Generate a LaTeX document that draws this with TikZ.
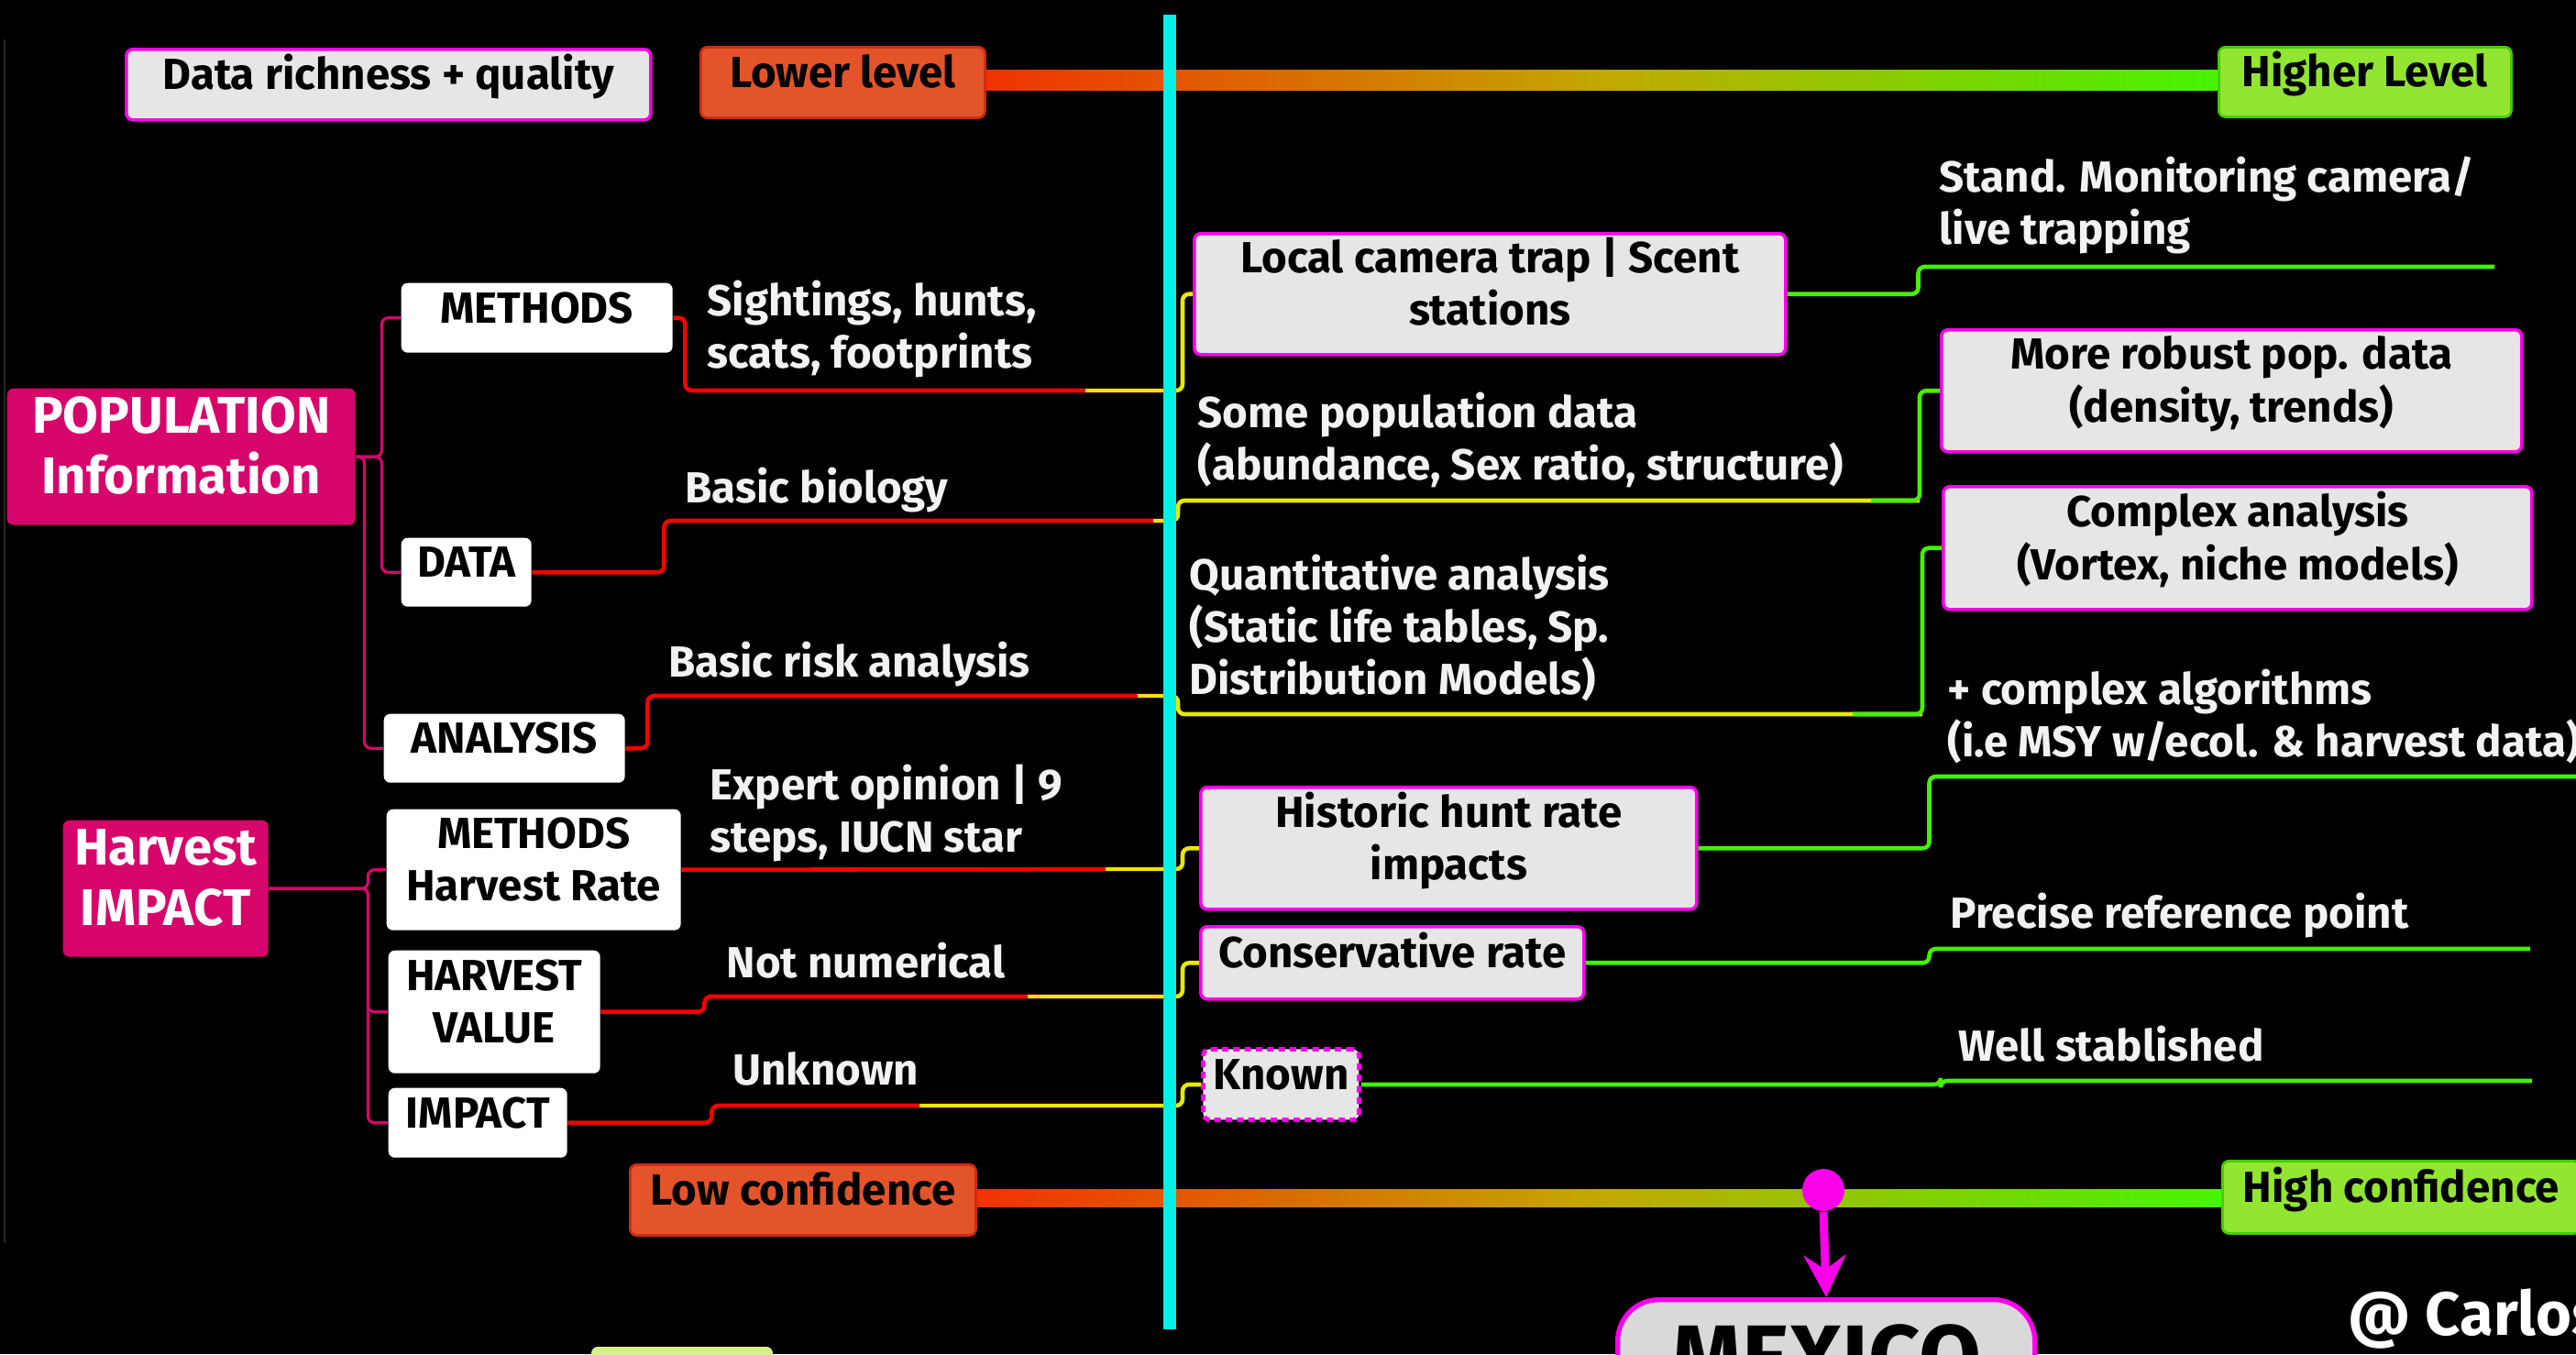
\documentclass[tikz,border=0pt]{standalone}
\usepackage{fontspec}
\setmainfont{Fira Sans}
\usepackage{tikz}
\usepackage{xcolor}
\usetikzlibrary{arrows.meta}
\usetikzlibrary{shapes}

\definecolor{wurzelpink}{RGB}{214,6,107}
\definecolor{randpink}{RGB}{250,0,235}
\definecolor{kastengrau}{RGB}{230,230,230}
\definecolor{mexikograu}{RGB}{217,217,217}
\definecolor{orangerot}{RGB}{228,84,42}
\definecolor{orangerand}{RGB}{205,45,20}
\definecolor{hellgruen}{RGB}{146,230,50}
\definecolor{gruenrand}{RGB}{70,205,0}
\definecolor{zweigrot}{RGB}{245,0,0}
\definecolor{zweiggelb}{RGB}{232,232,0}
\definecolor{zweiggruen}{RGB}{70,240,0}
\definecolor{balkenrot}{RGB}{240,50,0}
\definecolor{balkenoliv}{RGB}{195,168,0}
\definecolor{balkengruen}{RGB}{70,245,0}
\definecolor{achse}{RGB}{0,240,228}
\definecolor{schrift}{RGB}{242,242,242}
\definecolor{randgrau}{RGB}{38,38,38}
\definecolor{blassgruen}{RGB}{216,240,140}

\newcommand\normalschrift{\fontsize{13.5}{16.3}\selectfont\bfseries}
\newcommand\grossschrift{\fontsize{16}{19}\selectfont\bfseries}
\newcommand\stufenschrift{\fontsize{13.5}{16}\selectfont\bfseries}
% Text in den Kaesten etwas hoeher setzen:
\newcommand\kastentext[1]{\raisebox{0.6mm}[\height][\depth]{\begin{tabular}{@{}c@{}}#1\end{tabular}}}

\tikzset{
  kasten/.style={anchor=north west, fill=kastengrau, draw=randpink, line width=1pt,
    rounded corners=2pt, inner sep=0pt, align=center, font=\normalschrift},
  zweig/.style={anchor=north west, fill=white, rounded corners=2pt, inner sep=0pt,
    align=center, font=\normalschrift},
  wurzel/.style={anchor=north west, fill=wurzelpink, text=white, rounded corners=2pt,
    inner sep=0pt, align=center, font=\grossschrift},
  notiz/.style={anchor=north west, text=schrift, inner sep=0pt, align=left, font=\normalschrift},
  stufe/.style={anchor=north west, rounded corners=2pt, inner sep=0pt, line width=0.8pt,
    font=\stufenschrift},
  astlinie/.style={wurzelpink, line width=0.9pt, rounded corners=2pt},
  rotlinie/.style={zweigrot, line width=1.3pt, rounded corners=2pt},
  gelblinie/.style={zweiggelb, line width=1.3pt, rounded corners=2pt},
  gruenlinie/.style={zweiggruen, line width=1.3pt, rounded corners=2pt},
  pfeil/.style={randpink, line width=0.9mm, -{Stealth[length=4.6mm,width=4.6mm,inset=1.6mm]}}
}

\begin{document}
\begin{tikzpicture}
% Hintergrund:
\useasboundingbox (0,0) rectangle (28.10,-14.77);
\fill[black] (0,0) rectangle (28.10,-14.77);
\draw[randgrau, line width=0.5pt] (0.05,-0.43) -- (0.05,-13.56);

% Skala oben:
\node[kasten, minimum width=5.72cm, minimum height=0.77cm] (daten) at (1.36,-0.52) {\kastentext{Data richness + quality}};
\node[stufe, fill=orangerot, draw=orangerand, minimum width=3.10cm, minimum height=0.77cm] (nieder) at (7.63,-0.50) {\kastentext{Lower level}};
\node[stufe, fill=hellgruen, draw=gruenrand, minimum width=3.19cm, minimum height=0.76cm] (hoeher) at (24.19,-0.50) {\kastentext{Higher Level}};
\shade[left color=balkenrot, right color=balkengruen, middle color=balkenoliv]
  ([yshift=1.3mm]nieder.east) rectangle ([yshift=-0.9mm]hoeher.west);

% Skala unten:
\node[stufe, fill=orangerot, draw=orangerand, minimum width=3.77cm, minimum height=0.77cm] (niedrig) at (6.86,-12.69) {\kastentext{Low confidence}};
\node[stufe, fill=hellgruen, draw=gruenrand, minimum width=3.90cm, minimum height=0.79cm] (hoch) at (24.23,-12.65) {\kastentext{High confidence}};
\shade[left color=balkenrot, right color=balkengruen, middle color=balkenoliv]
  ([yshift=1.1mm]niedrig.east) rectangle ([yshift=-1.1mm]hoch.west);

% Wurzeln links:
\node[wurzel, minimum width=3.80cm, minimum height=1.49cm] (pop) at (0.07,-4.23) {\kastentext{POPULATION\\Information}};
\node[wurzel, minimum width=2.24cm, minimum height=1.49cm] (ernte) at (0.68,-8.94) {\kastentext{Harvest\\IMPACT}};

% Zweige:
\node[zweig, minimum width=2.96cm, minimum height=0.76cm] (meth) at (4.37,-3.08) {\kastentext{METHODS}};
\node[zweig, minimum width=1.42cm, minimum height=0.75cm] (dat) at (4.37,-5.86) {\kastentext{DATA}};
\node[zweig, minimum width=2.63cm, minimum height=0.75cm] (anal) at (4.18,-7.78) {\kastentext{ANALYSIS}};
\node[zweig, minimum width=3.21cm, minimum height=1.32cm] (hrate) at (4.21,-8.82) {\kastentext{METHODS\\Harvest Rate}};
\node[zweig, minimum width=2.31cm, minimum height=1.34cm] (hwert) at (4.23,-10.36) {\kastentext{HARVEST\\VALUE}};
\node[zweig, minimum width=1.95cm, minimum height=0.76cm] (impact) at (4.23,-11.86) {\kastentext{IMPACT}};

\draw[astlinie] (pop.east) -- ++(0.28,0) |- (meth.west);
\draw[astlinie] (pop.east) -- ++(0.28,0) |- (dat.west);
\draw[astlinie] (pop.east) -- ++(0.09,0) |- (anal.west);
\draw[astlinie] (ernte.east) -- ++(1.08,0) |- (hrate.west);
\draw[astlinie] (ernte.east) -- ++(1.08,0) |- (hwert.west);
\draw[astlinie] (ernte.east) -- ++(1.08,0) |- (impact.west);

% Notizen links:
\node[notiz] (l1) at (7.71,-3.05) {Sightings, hunts,\\scats, footprints};
\node[notiz] (l2) at (7.47,-5.09) {Basic biology};
\node[notiz] (l3) at (7.29,-6.99) {Basic risk analysis};
\node[notiz] (l4) at (7.74,-8.33) {Expert opinion | 9\\steps, IUCN star};
\node[notiz] (l5) at (7.92,-10.27) {Not numerical};
\node[notiz] (l6) at (7.99,-11.47) {Unknown};

% Rechte Seite:
\node[kasten, minimum width=6.45cm, minimum height=1.32cm] (r1) at (13.01,-2.53) {\kastentext{Local camera trap | Scent\\stations}};
\node[notiz] (r1b) at (21.15,-1.70) {Stand. Monitoring camera/\\live trapping};
\node[notiz] (r2) at (13.06,-4.27) {Some population data\\(abundance, Sex ratio, structure)};
\node[kasten, minimum width=6.33cm, minimum height=1.33cm] (r2b) at (21.16,-3.58) {\kastentext{More robust pop. data\\(density, trends)}};
\node[notiz] (r3) at (12.97,-6.04) {Quantitative analysis\\(Static life tables, Sp.\\Distribution Models)};
\node[kasten, minimum width=6.42cm, minimum height=1.34cm] (r3b) at (21.18,-5.29) {\kastentext{Complex analysis\\(Vortex, niche models)}};
\node[kasten, minimum width=5.41cm, minimum height=1.33cm] (r4) at (13.08,-8.57) {\kastentext{Historic hunt rate\\impacts}};
\node[notiz] (r4b) at (21.24,-7.29) {+ complex algorithms\\(i.e MSY w/ecol. \& harvest data)};
\node[kasten, minimum width=4.18cm, minimum height=0.79cm] (r5) at (13.08,-10.09) {\kastentext{Conservative rate}};
\node[notiz] (r5b) at (21.27,-9.73) {Precise reference point};
\node[kasten, dash pattern=on 2pt off 1.5pt, line width=1.4pt, minimum width=1.70cm, minimum height=0.77cm] (r6) at (13.10,-11.42) {\kastentext{Known}};
\node[notiz] (r6b) at (21.36,-11.18) {Well stablished};

% Enden der Unterstriche:
\coordinate (u1) at (12.76,-4.26);
\coordinate (u2) at (12.76,-5.68);
\coordinate (u3) at (12.76,-7.59);
\coordinate (u4) at (12.76,-9.48);
\coordinate (u5) at (12.76,-10.87);
\coordinate (u6) at (12.76,-12.06);
\coordinate (v2) at (20.94,-5.46);
\coordinate (v3) at (20.97,-7.79);
\coordinate (s1) at (27.21,-2.91);
\coordinate (s4) at (28.10,-8.47);
\coordinate (s5) at (27.60,-10.35);
\coordinate (s6) at (27.62,-11.79);

% rot und gelb bis zur Achse:
\draw[rotlinie] (meth.east) -- ++(0.13,0) |- (u1);
\draw[gelblinie] (u1) -- ++(-0.92,0);
\draw[rotlinie] (dat.east) -- ++(1.44,0) |- (u2);
\draw[gelblinie] (u2) -- ++(-0.18,0);
\draw[rotlinie] (anal.east) -- ++(0.24,0) |- (u3);
\draw[gelblinie] (u3) -- ++(-0.35,0);
\draw[rotlinie] (hrate.east) -- (u4);
\draw[gelblinie] (u4) -- ++(-0.70,0);
\draw[rotlinie] (hwert.east) -- ++(1.13,0) |- (u5);
\draw[gelblinie] (u5) -- ++(-1.55,0);
\draw[rotlinie] (impact.east) -- ++(1.57,0) |- (u6);
\draw[gelblinie] (u6) -- ++(-2.73,0);

% gelb und gruen rechts:
\draw[gelblinie] (u1) -- ++(0.14,0) |- (r1.west);
\draw[gruenlinie] (r1.east) -- ++(1.43,0) |- (s1);
\draw[gelblinie] (u2) -- ++(0.09,0) |- (v2);
\draw[gruenlinie] (v2) ++(-0.53,0) -- (v2) |- (r2b.west);
\draw[gelblinie] (u3) -- ++(0.09,0) |- (v3);
\draw[gruenlinie] (v3) ++(-0.76,0) -- (v3) |- (r3b.west);
\draw[gelblinie] (u4) -- ++(0.14,0) |- (r4.west);
\draw[gruenlinie] (r4.east) -- ++(2.52,0) |- (s4);
\draw[gelblinie] (u5) -- ++(0.14,0) |- (r5.west);
\draw[gruenlinie] (r5.east) -- ++(3.75,0) |- (s5);
\draw[gelblinie] (u6) -- ++(0.14,0) |- (r6.west);
\draw[gruenlinie] (r6.east) -- ++(6.32,0) |- (s6);

% Achse:
\draw[achse, line width=0.14cm] (12.76,-0.16) -- (12.76,-14.50);

% Mexiko:
\node[anchor=north west, fill=mexikograu, draw=randpink, line width=1.5pt, rounded corners=0.45cm,
  inner sep=0pt, minimum width=4.55cm, minimum height=1.25cm, font=\fontsize{28}{30}\selectfont\bfseries] (mexiko) at (17.62,-14.15) {MEXICO};
\node[circle, fill=randpink, minimum size=0.46cm, inner sep=0pt] (pin) at (19.89,-12.98) {};
\draw[pfeil] (pin.south) -- (mexiko.north);

\fill[blassgruen, rounded corners=2pt] (6.45,-14.69) rectangle (8.43,-14.95);
\node[anchor=north west, text=white, inner sep=0pt, font=\fontsize{19}{22}\selectfont\bfseries] (autor) at (25.61,-14.05) {@ Carlos};
\end{tikzpicture}
\end{document}
